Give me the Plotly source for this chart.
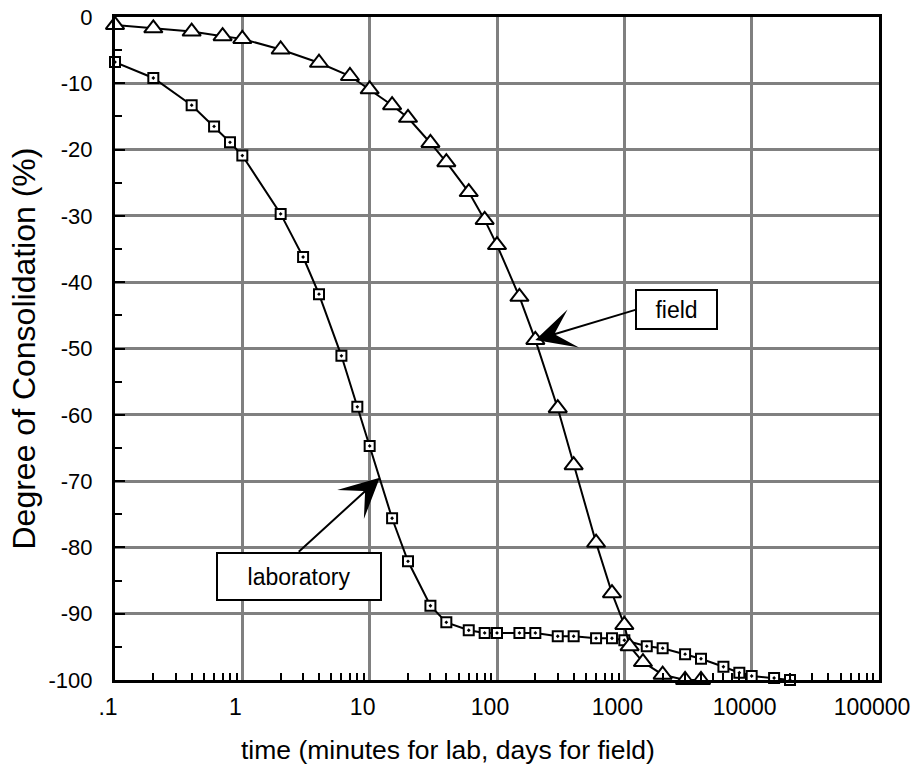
import math
import plotly.graph_objects as go

# Laboratory test: time in minutes, degree of consolidation in %
lab_time = [0.1, 0.2, 0.4, 0.6, 0.8, 1, 2, 3, 4, 6, 8, 10, 15, 20, 30, 40, 60, 80,
            100, 150, 200, 300, 400, 600, 800, 1000, 1500, 2000, 3000, 4000, 6000,
            8000, 10000, 15000, 20000]
lab_u = [-6.8, -9.2, -13.3, -16.5, -18.9, -20.9, -29.7, -36.2, -41.8, -51.1, -58.8,
         -64.7, -75.6, -82.1, -88.8, -91.3, -92.5, -92.9, -92.9, -92.9, -92.9, -93.4,
         -93.4, -93.7, -93.7, -94.0, -94.9, -95.2, -96.1, -96.8, -98.0, -98.9, -99.4,
         -99.7, -100.0]

# Field settlement record: time in days
field_time = [0.1, 0.2, 0.4, 0.7, 1, 2, 4, 7, 10, 15, 20, 30, 40, 60, 80, 100, 150,
              200, 300, 400, 600, 800, 1000, 1100, 1400, 2000, 3000, 4000]
field_u = [-1.2, -1.7, -2.2, -2.9, -3.3, -4.9, -6.9, -8.9, -10.9, -13.3, -15.2, -19.0,
           -21.9, -26.4, -30.6, -34.4, -42.2, -48.7, -59.0, -67.6, -79.3, -86.9, -91.7,
           -94.9, -97.3, -99.2, -100.0, -100.0]

x_tick_vals = [0.1, 1, 10, 100, 1000, 10000, 100000]
x_tick_text = [".1", "1", "10", "100", "1000", "10000", "100000"]
x_minor_vals = [m * d for d in [0.1, 1, 10, 100, 1000, 10000] for m in range(2, 10)]

y_tick_vals = [0, -10, -20, -30, -40, -50, -60, -70, -80, -90, -100]
y_tick_text = ["0", "-10", "-20", "-30", "-40", "-50", "-60", "-70", "-80", "-90", "-100"]

# Callout targets on each curve (time, degree of consolidation)
lab_callout = (12, -69.5)
field_callout = (200, -48.7)

FONT = "Arial, 'Liberation Sans', Helvetica, sans-serif"

fig = go.Figure()

fig.add_trace(go.Scatter(
    x=lab_time, y=lab_u, mode="lines+markers", name="laboratory",
    line=dict(color="black", width=2),
    marker=dict(symbol="square-dot", size=10, color="white",
                line=dict(color="black", width=2)),
    cliponaxis=False,
))
fig.add_trace(go.Scatter(
    x=field_time, y=field_u, mode="lines+markers", name="field",
    line=dict(color="black", width=2),
    marker=dict(symbol="triangle-up", size=16, color="white",
                line=dict(color="black", width=2)),
    cliponaxis=False,
))

# Callout boxes (annotation positions on a log axis are given in log10 units)
fig.add_annotation(
    x=math.log10(field_callout[0]), y=field_callout[1], xref="x", yref="y",
    text="field", showarrow=True, arrowhead=3, arrowsize=3.3, arrowwidth=2,
    arrowcolor="black", ax=100, ay=-30, xanchor="left", yanchor="middle",
    width=79, height=37, borderpad=0, bordercolor="black", borderwidth=2,
    bgcolor="white", font=dict(family=FONT, size=23, color="black"),
)
fig.add_annotation(
    x=math.log10(lab_callout[0]), y=lab_callout[1], xref="x", yref="y",
    text="laboratory", showarrow=True, arrowhead=3, arrowsize=3.3, arrowwidth=2,
    arrowcolor="black", ax=-81, ay=74, xanchor="center", yanchor="top",
    width=162, height=45, borderpad=0, bordercolor="black", borderwidth=2,
    bgcolor="white", font=dict(family=FONT, size=23, color="black"),
)

# Axis titles
fig.add_annotation(
    text="time (minutes for lab, days for field)", xref="paper", yref="paper",
    x=0.436, y=0, yshift=-70, xanchor="center", yanchor="middle", showarrow=False,
    font=dict(family=FONT, size=26.5, color="black"),
)
fig.add_annotation(
    text="Degree of Consolidation (%)", xref="paper", yref="paper",
    x=0, y=0.5, xshift=-92, xanchor="center", yanchor="middle", textangle=-90,
    showarrow=False, font=dict(family=FONT, size=32, color="black"),
)

fig.update_xaxes(
    type="log", range=[-1, 5], automargin=False,
    tickvals=x_tick_vals, ticktext=x_tick_text, ticks="",
    ticklabelshift=-7, ticklabelstandoff=4,
    tickfont=dict(family=FONT, size=23, color="black"),
    showgrid=True, gridcolor="#808080", gridwidth=3,
    showline=True, linecolor="black", linewidth=3, mirror=True,
    minor=dict(tickvals=x_minor_vals, ticks="inside", ticklen=7, tickwidth=2,
               tickcolor="black", showgrid=False),
    zeroline=False,
)
fig.update_yaxes(
    range=[-100, 0], automargin=False,
    tickvals=y_tick_vals, ticktext=y_tick_text,
    ticks="inside", ticklen=10, tickwidth=2, tickcolor="black",
    ticklabelstandoff=15,
    tickfont=dict(family=FONT, size=22, color="black"),
    showgrid=True, gridcolor="#808080", gridwidth=3,
    showline=True, linecolor="black", linewidth=3, mirror=True,
    minor=dict(tickvals=[v - 5 for v in y_tick_vals[:-1]], ticks="inside",
               ticklen=7, tickwidth=2, tickcolor="black", showgrid=False),
    zeroline=False,
)

fig.update_layout(
    width=911, height=765,
    margin=dict(l=115, r=32, t=17, b=85),
    paper_bgcolor="white", plot_bgcolor="white",
    showlegend=False,
    font=dict(family=FONT, color="black"),
)

fig.write_html("out.html")
